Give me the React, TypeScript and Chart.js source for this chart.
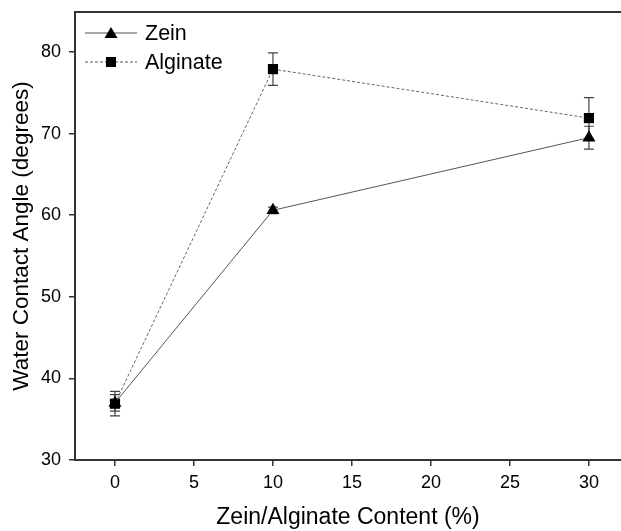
import React, { useEffect, useRef } from "react";
import { Chart, registerables } from "chart.js";

Chart.register(...registerables);

// Filler content (%) on the x axis
const contents = [0, 10, 30];
// Water contact angle (degrees) with standard deviations
const zeinAngle = [37.0, 60.6, 69.5];
const zeinErr = [1.0, 0.4, 1.4];
const alginateAngle = [36.9, 77.9, 71.9];
const alginateErr = [1.5, 2.0, 2.5];
const seriesNames = ["Zein", "Alginate"];
const xTicks = [0, 5, 10, 15, 20, 25, 30];
const yTicks = [30, 40, 50, 60, 70, 80];

const AXIS_COLOR = "#333333";
const FONT = "Arial, 'Liberation Sans', sans-serif";

// Vertical error bars with caps, drawn underneath the markers
const errorBarPlugin = {
  id: "errorBars",
  beforeDatasetsDraw(chart: any) {
    const { ctx } = chart;
    const xs = chart.scales.x;
    const ys = chart.scales.y;
    const sets = [
      { v: zeinAngle, e: zeinErr },
      { v: alginateAngle, e: alginateErr },
    ];
    ctx.save();
    ctx.strokeStyle = "#444444";
    ctx.lineWidth = 1.2;
    sets.forEach(({ v, e }) => {
      contents.forEach((c, i) => {
        const x = xs.getPixelForValue(c);
        const yt = ys.getPixelForValue(v[i] + e[i]);
        const yb = ys.getPixelForValue(v[i] - e[i]);
        ctx.beginPath();
        ctx.moveTo(x, yt);
        ctx.lineTo(x, yb);
        ctx.moveTo(x - 5, yt);
        ctx.lineTo(x + 5, yt);
        ctx.moveTo(x - 5, yb);
        ctx.lineTo(x + 5, yb);
        ctx.stroke();
      });
    });
    ctx.restore();
  },
};

// Top frame line and the in-plot legend with line samples
const framePlugin = {
  id: "frameLegend",
  afterDraw(chart: any) {
    const { ctx, chartArea } = chart;
    ctx.save();
    ctx.strokeStyle = AXIS_COLOR;
    ctx.lineWidth = 2;
    ctx.beginPath();
    ctx.moveTo(chartArea.left - 1, chartArea.top);
    ctx.lineTo(chart.width, chartArea.top);
    ctx.stroke();

    const entries = [
      { name: seriesNames[0], dash: [] as number[], style: "triangle", y: 33 },
      { name: seriesNames[1], dash: [3, 2], style: "rect", y: 62 },
    ];
    const x0 = chartArea.left + 10;
    const x1 = x0 + 52;
    entries.forEach((en) => {
      ctx.strokeStyle = "#555555";
      ctx.lineWidth = 1;
      ctx.setLineDash(en.dash);
      ctx.beginPath();
      ctx.moveTo(x0, en.y);
      ctx.lineTo(x1, en.y);
      ctx.stroke();
      ctx.setLineDash([]);
      ctx.fillStyle = "#000000";
      ctx.beginPath();
      const cx = (x0 + x1) / 2;
      if (en.style === "triangle") {
        ctx.moveTo(cx, en.y - 6);
        ctx.lineTo(cx + 6.5, en.y + 5);
        ctx.lineTo(cx - 6.5, en.y + 5);
        ctx.closePath();
      } else {
        ctx.rect(cx - 5, en.y - 5, 10, 10);
      }
      ctx.fill();
      ctx.font = `21.5px ${FONT}`;
      ctx.textBaseline = "middle";
      ctx.textAlign = "left";
      ctx.fillText(en.name, x1 + 8, en.y + 1);
    });
    ctx.restore();
  },
};

export default function App() {
  const canvasRef = useRef<HTMLCanvasElement | null>(null);

  useEffect(() => {
    if (!canvasRef.current) return;
    const chart = new Chart(canvasRef.current, {
      type: "line",
      data: {
        datasets: [
          {
            label: seriesNames[0],
            data: contents.map((c, i) => ({ x: c, y: zeinAngle[i] })),
            borderColor: "#555555",
            borderWidth: 1,
            pointStyle: "triangle",
            pointRadius: 7.5,
            pointBackgroundColor: "#000000",
            pointBorderColor: "#000000",
            pointBorderWidth: 0,
            fill: false,
          },
          {
            label: seriesNames[1],
            data: contents.map((c, i) => ({ x: c, y: alginateAngle[i] })),
            borderColor: "#666666",
            borderWidth: 1,
            borderDash: [3, 2],
            pointStyle: "rect",
            pointRadius: 7.2,
            pointBackgroundColor: "#000000",
            pointBorderColor: "#000000",
            pointBorderWidth: 0,
            fill: false,
          },
        ],
      },
      options: {
        animation: false,
        responsive: false,
        maintainAspectRatio: false,
        layout: { autoPadding: false, padding: { top: 12, right: 0, left: 0, bottom: 0 } },
        plugins: {
          legend: { display: false },
          tooltip: { enabled: false },
        },
        scales: {
          x: {
            type: "linear",
            min: -2.53,
            max: 32.03,
            afterBuildTicks: (s: any) => {
              s.ticks = xTicks.map((v) => ({ value: v }));
            },
            afterFit: (s: any) => {
              s.height = 71;
              s.paddingLeft = 0;
              s.paddingRight = 0;
            },
            grid: {
              drawOnChartArea: false,
              drawTicks: true,
              tickLength: 6,
              color: AXIS_COLOR,
              lineWidth: 1.5,
            },
            border: { display: true, color: AXIS_COLOR, width: 2 },
            ticks: {
              color: "#000000",
              padding: 6,
              font: { family: FONT, size: 18 },
              maxRotation: 0,
            },
            title: {
              display: true,
              text: "Zein/Alginate Content (%)",
              color: "#000000",
              font: { family: FONT, size: 23 },
              padding: { top: 4, bottom: 0 },
            },
          },
          y: {
            type: "linear",
            min: 30,
            max: 84.9,
            afterBuildTicks: (s: any) => {
              s.ticks = yTicks.map((v) => ({ value: v }));
            },
            afterFit: (s: any) => {
              s.width = 75;
              s.paddingTop = 0;
              s.paddingBottom = 0;
            },
            grid: {
              drawOnChartArea: false,
              drawTicks: true,
              tickLength: 6,
              color: AXIS_COLOR,
              lineWidth: 1.5,
            },
            border: { display: true, color: AXIS_COLOR, width: 2 },
            ticks: {
              color: "#000000",
              padding: 8,
              font: { family: FONT, size: 18 },
            },
            title: {
              display: true,
              text: "Water Contact Angle (degrees)",
              color: "#000000",
              font: { family: FONT, size: 22.5 },
              padding: { top: 8, bottom: 0 },
            },
          },
        },
      },
      plugins: [errorBarPlugin, framePlugin],
    } as any);
    return () => chart.destroy();
  }, []);

  return (
    <div style={{ position: "absolute", left: 0, top: 0, width: 621, height: 531, background: "#ffffff" }}>
      <canvas ref={canvasRef} width={621} height={531} style={{ width: 621, height: 531 }} />
    </div>
  );
}
